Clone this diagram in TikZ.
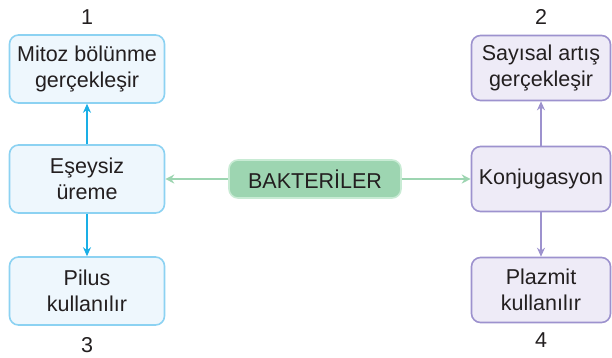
\documentclass[tikz,border=0pt]{standalone}
\usepackage{fontspec}
\setmainfont{Liberation Sans}
\usetikzlibrary{arrows.meta}

\definecolor{maviKenar}{HTML}{8CD2F2}
\definecolor{maviDolgu}{HTML}{EEF7FD}
\definecolor{maviOk}{HTML}{1AAFE6}
\definecolor{morKenar}{HTML}{9D92CE}
\definecolor{morDolgu}{HTML}{EEEBF7}
\definecolor{yesilDolgu}{HTML}{9DD5B1}
\definecolor{yesilKenar}{HTML}{C8EBD4}
\definecolor{metin}{HTML}{231F20}

\tikzset{
  kutu/.style={rounded corners=9pt, line width=1.6pt, align=center,
    inner sep=0pt, text=metin, font=\fontsize{21.5}{26}\selectfont},
  mavi/.style={kutu, draw=maviKenar, fill=maviDolgu,
    minimum width=155pt, minimum height=68pt},
  mor/.style={kutu, draw=morKenar, fill=morDolgu,
    minimum width=139pt, minimum height=65pt},
  numara/.style={text=metin, font=\fontsize{21.5}{26}\selectfont},
}

\begin{document}
\begin{tikzpicture}[x=1pt, y=-1pt]
    \useasboundingbox (0,0) rectangle (612,357);
    % ortadaki kutu
    \node[kutu, draw=yesilKenar, fill=yesilDolgu, minimum width=172pt,
      minimum height=38pt] (bakteri) at (315,179) {BAKTERİLER};
    % sol sutun
    \node[mavi] (mitoz) at (87,69) {Mitoz bölünme\\gerçekleşir};
    \node[mavi] (eseysiz) at (87,179) {Eşeysiz\\üreme};
    \node[mavi] (pilus) at (87,291) {Pilus\\kullanılır};
    % sag sutun
    \node[mor] (sayisal) at (541,68) {Sayısal artış\\gerçekleşir};
    \node[mor] (konj) at (541,179) {Konjugasyon};
    \node[mor] (plazmit) at (541,290) {Plazmit\\kullanılır};
    % numaralar
    \node[numara] (n1) at (87,17) {1};
    \node[numara] (n2) at (541,17) {2};
    \node[numara] (n3) at (87,345) {3};
    \node[numara] (n4) at (541,340) {4};
    % oklar
    \draw[yesilDolgu, line width=1.6pt, -{Stealth[length=9pt,width=9pt]}]
      (bakteri) -- (eseysiz);
    \draw[yesilDolgu, line width=1.6pt, -{Stealth[length=9pt,width=9pt]}]
      (bakteri) -- (konj);
    \draw[maviOk, line width=1.6pt, -{Stealth[length=9pt,width=8pt]}]
      (eseysiz) -- (mitoz);
    \draw[maviOk, line width=1.6pt, -{Stealth[length=9pt,width=8pt]}]
      (eseysiz) -- (pilus);
    \draw[morKenar, line width=1.6pt, -{Stealth[length=9pt,width=8pt]}]
      (konj) -- (sayisal);
    \draw[morKenar, line width=1.6pt, -{Stealth[length=9pt,width=8pt]}]
      (konj) -- (plazmit);
\end{tikzpicture}
\end{document}
